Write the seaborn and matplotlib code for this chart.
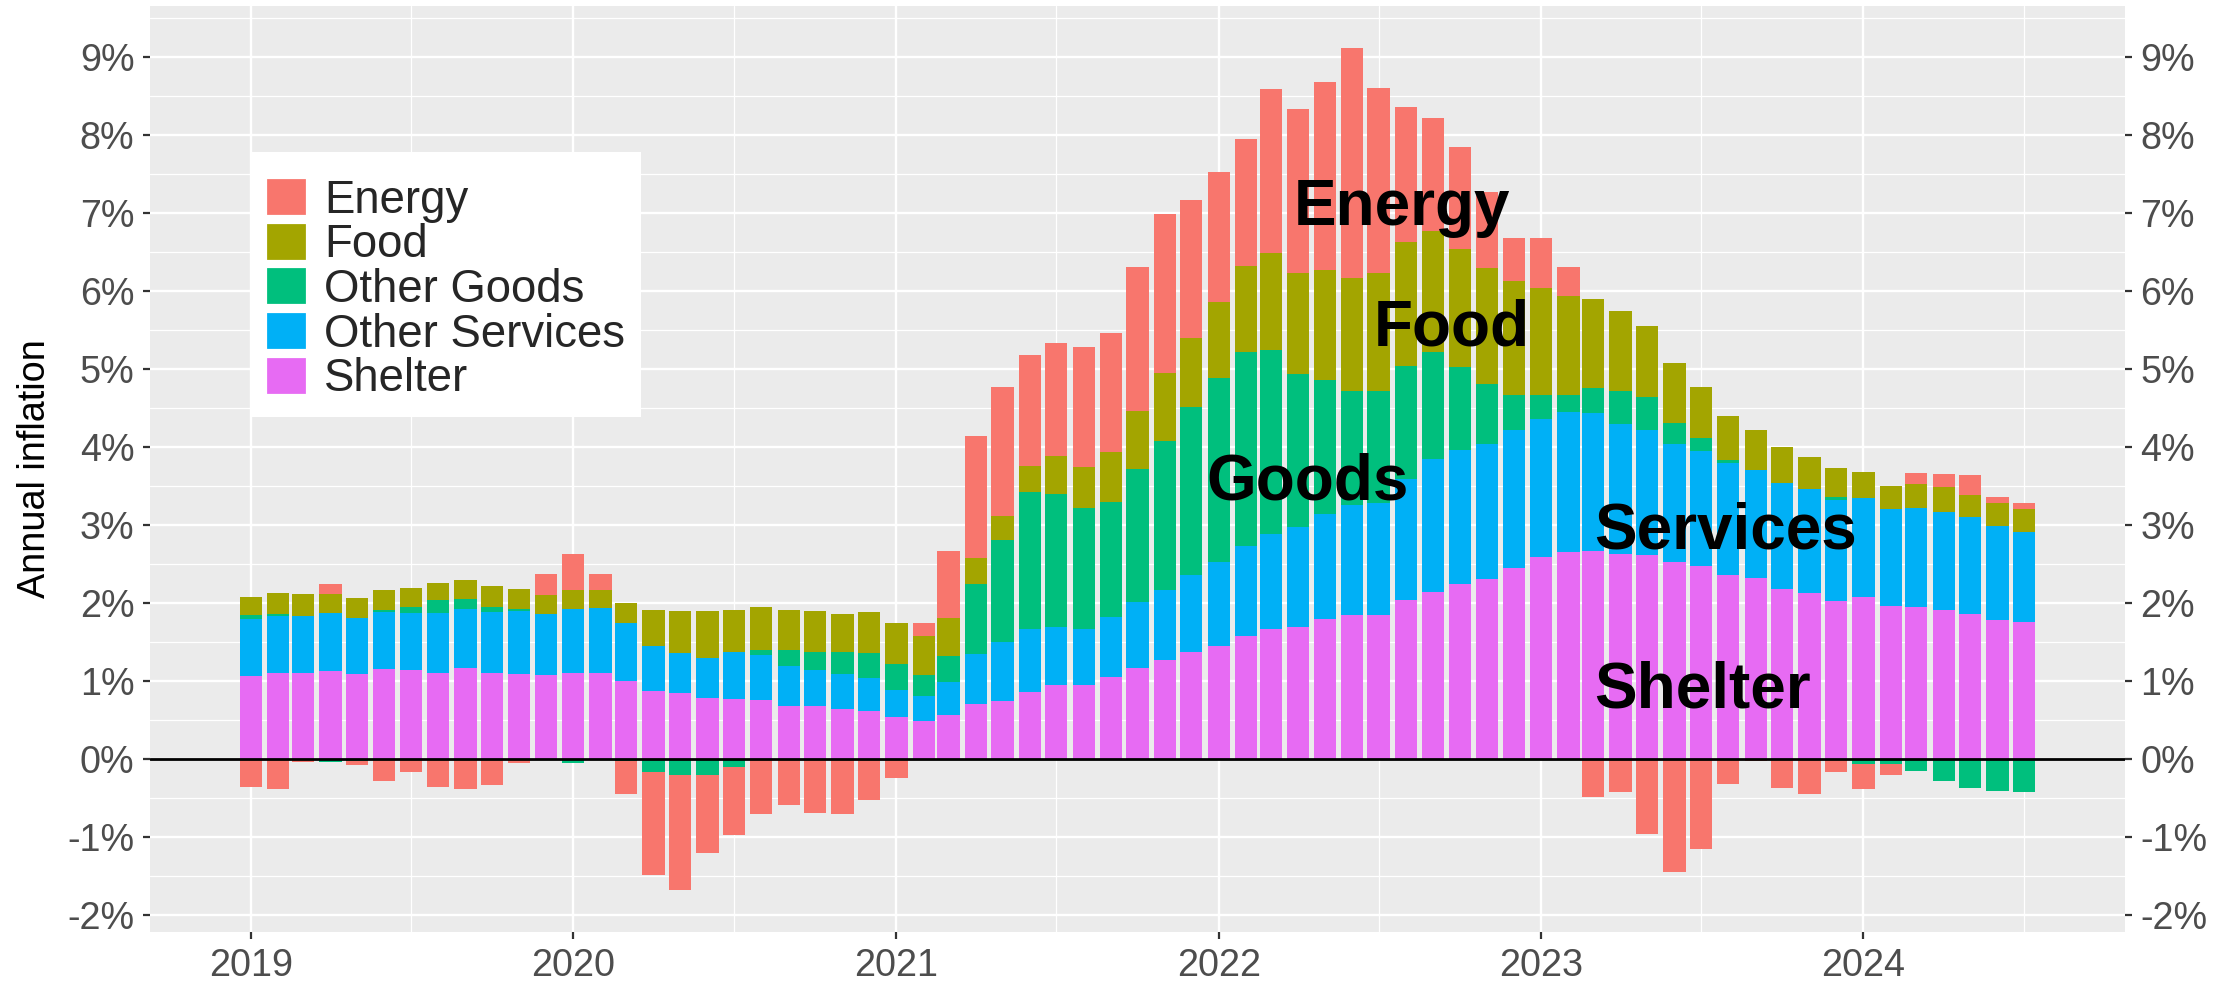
import numpy as np
import pandas as pd
import matplotlib
matplotlib.use("Agg")
import matplotlib.pyplot as plt
import matplotlib.dates as mdates
import matplotlib.patches as mpatches
import matplotlib.ticker as mticker
import seaborn as sns

# ---- data (contribution to annual CPI inflation, percentage points) ----
months = pd.date_range("2019-01-01", "2024-07-01", freq="MS")

shelter = [1.06, 1.10, 1.10, 1.13, 1.09, 1.15, 1.14, 1.10, 1.16, 1.10, 1.09, 1.07,
           1.10, 1.10, 1.00, 0.87, 0.84, 0.78, 0.77, 0.76, 0.68, 0.68, 0.64, 0.61,
           0.53, 0.48, 0.56, 0.70, 0.74, 0.86, 0.95, 0.95, 1.05, 1.16, 1.27, 1.37,
           1.45, 1.57, 1.66, 1.69, 1.79, 1.84, 1.85, 2.04, 2.14, 2.24, 2.31, 2.44,
           2.59, 2.65, 2.67, 2.63, 2.61, 2.52, 2.47, 2.35, 2.32, 2.18, 2.12, 2.02,
           2.07, 1.96, 1.94, 1.91, 1.86, 1.78, 1.75]

other_services = [0.73, 0.73, 0.73, 0.74, 0.71, 0.73, 0.73, 0.77, 0.76, 0.78, 0.81, 0.79,
                  0.82, 0.83, 0.74, 0.57, 0.52, 0.51, 0.60, 0.57, 0.51, 0.46, 0.45, 0.43,
                  0.35, 0.33, 0.42, 0.65, 0.76, 0.81, 0.74, 0.72, 0.77, 0.85, 0.90, 0.98,
                  1.07, 1.16, 1.22, 1.28, 1.35, 1.41, 1.43, 1.55, 1.70, 1.72, 1.73, 1.78,
                  1.77, 1.79, 1.76, 1.66, 1.61, 1.51, 1.48, 1.44, 1.38, 1.35, 1.34, 1.30,
                  1.27, 1.24, 1.28, 1.26, 1.24, 1.20, 1.16]

other_goods = [0.06, 0.03, 0.00, -0.04, -0.03, 0.03, 0.08, 0.16, 0.13, 0.06, 0.02, 0.00,
               -0.05, 0.00, -0.03, -0.17, -0.21, -0.21, -0.10, 0.07, 0.20, 0.23, 0.28, 0.32,
               0.34, 0.27, 0.34, 0.89, 1.31, 1.75, 1.70, 1.55, 1.47, 1.71, 1.90, 2.16,
               2.36, 2.49, 2.36, 1.96, 1.72, 1.47, 1.44, 1.45, 1.38, 1.06, 0.76, 0.44,
               0.30, 0.22, 0.32, 0.43, 0.42, 0.27, 0.16, 0.04, 0.00, 0.01, 0.00, 0.03,
               -0.07, -0.07, -0.15, -0.28, -0.38, -0.41, -0.42]

food = [0.22, 0.26, 0.28, 0.24, 0.26, 0.26, 0.24, 0.23, 0.24, 0.27, 0.26, 0.24,
        0.24, 0.24, 0.26, 0.47, 0.53, 0.60, 0.54, 0.55, 0.52, 0.52, 0.49, 0.52,
        0.52, 0.50, 0.48, 0.33, 0.30, 0.33, 0.49, 0.52, 0.64, 0.74, 0.87, 0.88,
        0.98, 1.10, 1.24, 1.30, 1.41, 1.44, 1.51, 1.58, 1.55, 1.52, 1.49, 1.46,
        1.37, 1.27, 1.14, 1.02, 0.91, 0.77, 0.65, 0.57, 0.51, 0.46, 0.41, 0.38,
        0.34, 0.30, 0.30, 0.31, 0.28, 0.30, 0.29]

energy = [-0.36, -0.39, -0.04, 0.13, -0.05, -0.28, -0.17, -0.36, -0.39, -0.34, -0.05, 0.27,
          0.46, 0.20, -0.42, -1.32, -1.47, -1.00, -0.87, -0.71, -0.59, -0.69, -0.71, -0.53,
          -0.25, 0.16, 0.86, 1.57, 1.65, 1.42, 1.45, 1.54, 1.53, 1.85, 2.04, 1.77,
          1.66, 1.63, 2.11, 2.10, 2.41, 2.95, 2.37, 1.74, 1.45, 1.30, 0.98, 0.55,
          0.64, 0.38, -0.49, -0.42, -0.96, -1.45, -1.15, -0.32, -0.03, -0.37, -0.45, -0.17,
          -0.32, -0.14, 0.15, 0.17, 0.26, 0.07, 0.08]

legend_order = ["Energy", "Food", "Other Goods", "Other Services", "Shelter"]
stack_order = ["Shelter", "Other Services", "Other Goods", "Food", "Energy"]
series = {"Shelter": shelter, "Other Services": other_services,
          "Other Goods": other_goods, "Food": food, "Energy": energy}
colors = {"Energy": "#F8766D", "Food": "#A3A500", "Other Goods": "#00BF7D",
          "Other Services": "#00B0F6", "Shelter": "#E76BF3"}

# labels written on the chart: (text, date, baseline value)
label_text = ["Energy", "Food", "Goods", "Services", "Shelter"]
label_date = ["2022-07-27", "2022-09-22", "2022-04-12", "2023-07-29", "2023-07-03"]
label_y = [6.84, 5.30, 3.33, 2.69, 0.66]

# ---- style (ggplot-like grey theme) ----
sns.set_theme(style="darkgrid", rc={
    "axes.facecolor": "#EBEBEB",
    "grid.color": "white",
    "axes.edgecolor": "#EBEBEB",
    "xtick.color": "#333333",
    "ytick.color": "#333333",
})
plt.rcParams["font.family"] = ["Liberation Sans", "DejaVu Sans"]

W, H, DPI = 2237, 982, 200
fig = plt.figure(figsize=(W / DPI, H / DPI), dpi=DPI)
ax = fig.add_axes([150 / W, 1 - 932 / H, (2125 - 150) / W, (932 - 6) / H])

x = mdates.date2num(months)
pos_base = np.zeros(len(x))
neg_base = np.zeros(len(x))

for name in stack_order:
    vals = np.array(series[name], dtype=float)
    pos = np.clip(vals, 0, None)
    neg = np.clip(vals, None, 0)
    for part, base in [(pos, pos_base), (neg, neg_base)]:
        if not np.any(part):
            continue
        sns.barplot(x=x, y=part, bottom=base.copy(), native_scale=True, orient="x",
                    color=colors[name], saturation=1, width=0.9, errorbar=None,
                    linewidth=0, ax=ax)
    pos_base += pos
    neg_base += neg

ax.axhline(0, color="black", lw=1.0, zorder=5)

# ggplot default 5% expansion
half_w = 0.45 * 28
xlo, xhi = x.min() - half_w, x.max() + half_w
ax.set_xlim(xlo - 0.05 * (xhi - xlo), xhi + 0.05 * (xhi - xlo))
ylo, yhi = min(neg_base.min(), 0), pos_base.max()
ax.set_ylim(ylo - 0.05 * (yhi - ylo), yhi + 0.05 * (yhi - ylo))

ax.xaxis.set_major_locator(mdates.YearLocator())
ax.xaxis.set_major_formatter(mdates.DateFormatter("%Y"))
ax.xaxis.set_minor_locator(mdates.MonthLocator(bymonth=7))
ax.yaxis.set_major_locator(mticker.MultipleLocator(1))
ax.yaxis.set_minor_locator(mticker.MultipleLocator(0.5))
ax.yaxis.set_major_formatter(mticker.FuncFormatter(lambda v, p: f"{v:.0f}%"))

ax.set_axisbelow(True)
ax.grid(which="major", color="white", lw=0.85)
ax.grid(which="minor", color="white", lw=0.45)
for s in ax.spines.values():
    s.set_visible(False)

ax.tick_params(axis="both", which="major", length=2.6, width=0.8, pad=3,
               labelsize=13.6, labelcolor="#4D4D4D", bottom=True, left=True,
               right=True, labelright=True)
ax.tick_params(axis="both", which="minor", length=0)
ax.set_xlabel("")
ax.set_ylabel("Annual inflation", fontsize=13.6, color="black", labelpad=5)

for txt, d, yv in zip(label_text, label_date, label_y):
    ax.text(mdates.date2num(pd.Timestamp(d)), yv, txt, ha="center", va="baseline",
            fontsize=23, fontweight="bold", color="black", zorder=6)

handles = [mpatches.Patch(facecolor=colors[n], edgecolor="white", lw=0.8, label=n)
           for n in legend_order]
leg = ax.legend(handles=handles, loc="upper left", bbox_to_anchor=(0.0506, 0.842),
                fontsize=16.4, frameon=True, fancybox=False, framealpha=1,
                title=" ", title_fontsize=4,
                handlelength=0.9, handleheight=0.9, labelspacing=0.0,
                handletextpad=0.38, borderpad=0.35, borderaxespad=0)
leg.get_frame().set_facecolor("white")
leg.get_frame().set_linewidth(0)
leg.set_zorder(10)

fig.savefig("out.png", dpi=DPI)
